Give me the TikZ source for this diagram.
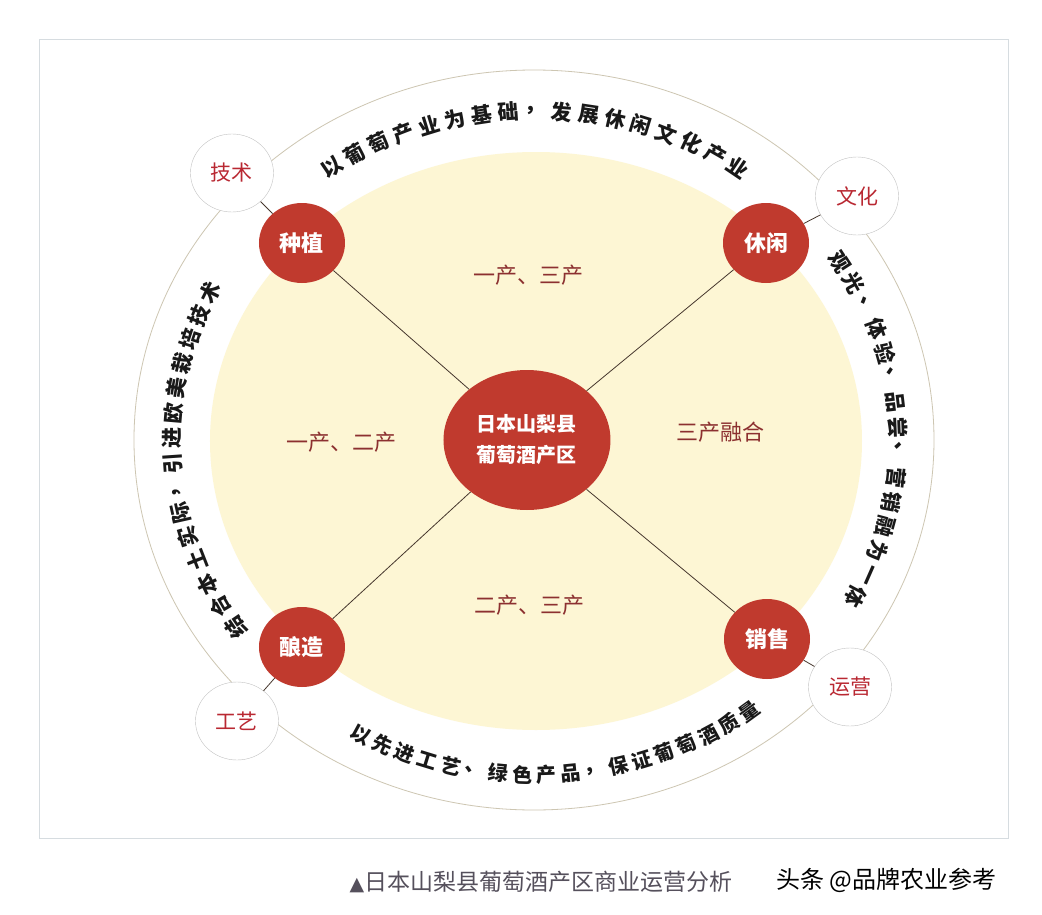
\documentclass[tikz,border=0pt]{standalone}
\usepackage{fontspec}
\setmainfont{Noto Sans CJK SC}
\newfontfamily\symfont{DejaVu Sans}
\usetikzlibrary{shapes.geometric}
\definecolor{wine}{RGB}{192,58,46}
\definecolor{cream}{RGB}{253,246,212}
\definecolor{ringline}{RGB}{205,198,178}
\definecolor{circline}{RGB}{195,195,195}
\definecolor{spoke}{RGB}{70,55,45}
\definecolor{zonered}{RGB}{140,48,48}
\definecolor{tagred}{RGB}{185,40,50}
\definecolor{framegray}{RGB}{214,220,224}
\definecolor{capgray}{RGB}{85,80,92}
\tikzset{
    hub/.style={
    ellipse,fill=wine,inner sep=0pt,minimum width=167pt,minimum height=140pt,
    text=white,align=center,font=\bfseries\fontsize{20}{31}\selectfont
    },
    stage/.style={
    ellipse,fill=wine,inner sep=0pt,minimum width=86pt,minimum height=80pt,
    text=white,font=\bfseries\fontsize{22}{22}\selectfont
    },
    aspect/.style={
    ellipse,draw=circline,fill=white,inner sep=0pt,minimum width=83pt,minimum height=78pt,
    text=tagred,font=\fontsize{21}{21}\selectfont
    },
    zone/.style={
    text=zonered,font=\fontsize{22}{22}\selectfont
    },
    ringtext/.style={
    inner sep=0pt,text=black!90,font=\bfseries\fontsize{21}{21}\selectfont
    },
    lowtext/.style={
    ringtext,font=\bfseries\fontsize{20}{20}\selectfont
    },
    link/.style={
    draw=spoke,line width=0.8pt
    },
    caption/.style={
    text=capgray,font=\fontsize{23}{23}\selectfont
    },
    stamp/.style={
    text=black,font=\fontsize{24}{24}\selectfont
    },
}

\begin{document}
\begin{tikzpicture}[x=1pt,y=1pt]
   \useasboundingbox[fill=white] (-535,-473) rectangle (507,441);
   \draw[framegray,line width=1pt] (-495,401) rectangle (473,-397);
   \draw[ringline,line width=0.8pt] (-1,1) ellipse [x radius=400, y radius=370];
   \fill[cream] (1,0) ellipse [x radius=326, y radius=289];

   \node[hub] (hub) at (-8,1) {日本山梨县\\葡萄酒产区};
   \node[stage] (plant) at (-233,198) {种植};
   \node[stage] (leisure) at (231,198) {休闲};
   \node[stage] (brew) at (-233,-206) {酿造};
   \node[stage] (sale) at (232,-198) {销售};
   \node[aspect] (tech) at (-303,268) {技术};
   \node[aspect] (culture) at (322,245) {文化};
   \node[aspect] (craft) at (-298,-280) {工艺};
   \node[aspect] (ops) at (315,-246) {运营};

   \node[zone] (z13) at (-6,166) {一产、三产};
   \node[zone] (z12) at (-193,-1) {一产、二产};
   \node[zone] (z123) at (186,9) {三产融合};
   \node[zone] (z23) at (-5,-164) {二产、三产};

  \path
    (hub) edge[link] (plant)
    (hub) edge[link] (leisure)
    (hub) edge[link] (brew)
    (hub) edge[link] (sale)
    (plant) edge[link] (tech)
    (leisure) edge[link] (culture)
    (brew) edge[link] (craft)
    (sale) edge[link] (ops);

  % text round the ring
  \foreach \ch [count=\i from 0] in {以,葡,萄,产,业,为,基,础,，,发,展,休,闲,文,化,产,业}
    \node[ringtext,rotate={34-4.25*\i}] at ({124-4.25*\i}:363 and 330) {\ch};
  \foreach \ch [count=\i from 0] in {结,合,本,土,实,际,，,引,进,欧,美,栽,培,技,术}
    \node[ringtext,rotate={124.4-4.36*\i}] at ({214.4-4.36*\i}:363 and 330) {\ch};
  \foreach \ch [count=\i from 0] in {观,光,、,体,验,、,品,尝,、,营,销,融,为,一,体}
    \node[ringtext,rotate={-57.1-4.36*\i}] at ({32.9-4.36*\i}:363 and 330) {\ch};
  \foreach \ch [count=\i from 0] in {以,先,进,工,艺,、,绿,色,产,品,，,保,证,葡,萄,酒,质,量}
    \node[lowtext,rotate={331.5+3.79*\i}] at ({241.5+3.79*\i}:365 and 334) {\ch};

   \node[caption,anchor=west] (cap) at (-189,-441) {{\symfont\fontsize{19}{19}\selectfont ▲}日本山梨县葡萄酒产区商业运营分析};
   \node[stamp,anchor=west] (stamp) at (238,-439) {头条 @品牌农业参考};
\end{tikzpicture}
\end{document}
